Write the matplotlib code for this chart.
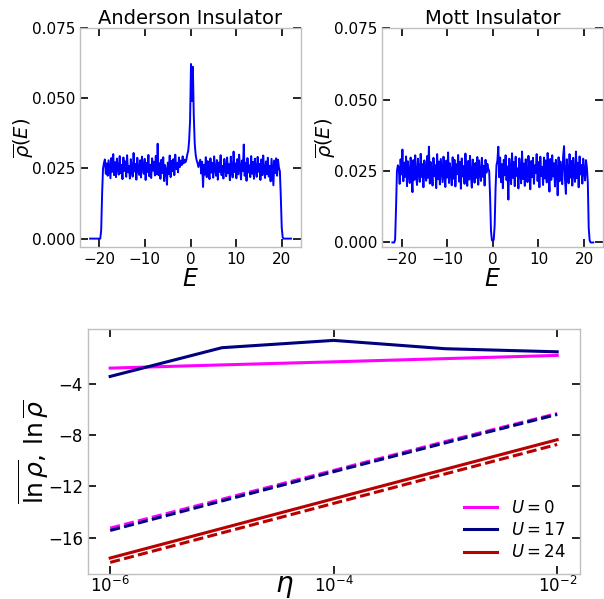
import numpy as np
import matplotlib
matplotlib.use("Agg")
import matplotlib.pyplot as plt

# --- density of states, Anderson insulator (values x 1e-4, grid step 0.2 from -22 to 22) ---
anderson_lead = [0, 0, 0, 0, 0, 0, 0, 0, 0, 0, 0, 0, 30, 160, 250, 270]
anderson_band_left = [
    282, 231, 268, 224, 279, 246, 215, 287, 238, 301,
    226, 272, 219, 285, 251, 228, 294, 233, 262, 212,
    289, 241, 275, 220, 297, 236, 258, 214, 283, 247,
    221, 305, 239, 266, 210, 288, 243, 227, 279, 218,
    292, 250, 231, 284, 209, 270, 237, 298, 222, 263,
    216, 286, 242, 274, 225, 295, 229, 338, 226, 268,
    213, 281, 234, 290, 205, 262, 244, 192, 271, 230,
    296, 219, 277, 240, 283, 226, 299, 248, 270, 236,
    289, 255, 278, 262, 293, 268, 281]
anderson_peak = [272, 281, 300, 312, 350, 420, 622, 490, 612, 440, 340, 300, 280, 270, 255]
anderson_band_right = [
    268, 281, 232, 274, 184, 263, 228, 290, 219, 276,
    241, 212, 286, 235, 270, 217, 293, 246, 224, 280,
    210, 271, 238, 297, 226, 259, 214, 284, 249, 222,
    289, 233, 265, 208, 292, 244, 218, 310, 237, 268,
    215, 283, 229, 299, 252, 211, 278, 240, 335, 224,
    270, 206, 287, 236, 261, 219, 294, 231, 273, 213,
    285, 247, 220, 291, 238, 266, 209, 282, 226, 296,
    243, 216, 275, 230, 288, 221, 259, 204, 284, 239,
    190, 278, 233, 286, 224, 281, 252]
anderson_tail = [240, 150, 40, 5, 0, 0, 0, 0, 0, 0, 0, 0, 0]

# --- density of states, Mott insulator ---
mott_lead = [0, 0, 0, 10, 120, 250, 270]
mott_band_left = [
    262, 205, 291, 238, 325, 214, 279, 230, 301, 197,
    284, 243, 208, 297, 226, 176, 288, 219, 305, 235,
    201, 293, 248, 212, 310, 229, 274, 193, 287, 240,
    216, 302, 226, 335, 206, 281, 245, 199, 296, 232,
    270, 190, 309, 221, 283, 203, 292, 251, 211, 300,
    236, 194, 286, 227, 315, 208, 277, 244, 200, 298,
    223, 289, 196, 273, 239, 306, 213, 282, 188, 294,
    231, 267, 205, 311, 242, 198, 285, 220, 303, 234,
    192, 290, 253, 209, 278, 226, 299, 202, 287, 241,
    215, 296, 230, 268, 199, 289, 244, 275, 258]
mott_gap = [250, 160, 40, 8, 5, 10, 60, 190, 270]
mott_band_right = [
    286, 335, 228, 297, 211, 274, 190, 289, 235, 305,
    218, 266, 150, 293, 241, 204, 312, 226, 281, 197,
    300, 233, 259, 189, 294, 245, 207, 318, 222, 276,
    198, 291, 237, 211, 303, 250, 186, 285, 229, 296,
    205, 270, 243, 309, 215, 281, 193, 300, 232, 264,
    201, 297, 224, 287, 210, 313, 240, 178, 292, 219,
    305, 231, 277, 196, 289, 248, 165, 298, 214, 283,
    236, 204, 302, 337, 220, 170, 291, 244, 207, 309,
    227, 285, 199, 296, 239, 212, 318, 225, 279, 193,
    301, 238, 271, 206, 293, 247, 217, 288, 262]
mott_tail = [210, 50, 8, 0, 0, 0, 0]

# --- typical vs mean log-density against broadening eta ---
eta = [1e-6, 1e-5, 1e-4, 1e-3, 1e-2]
U_values = [0, 17, 24]
colors = ["#ff00ff", "#000080", "#b80000"]
ln_typ = {
    0: [-2.78, -2.53, -2.29, -2.04, -1.79],
    17: [-3.43, -1.19, -0.62, -1.27, -1.51],
    24: [-17.58, -15.27, -12.96, -10.66, -8.36],
}
ln_mean = {
    0: [-15.25, -13.00, -10.75, -8.50, -6.32],
    17: [-15.43, -13.13, -10.85, -8.60, -6.39],
    24: [-17.92, -15.62, -13.32, -11.02, -8.73],
}

rho_A = np.array(anderson_lead + anderson_band_left + anderson_peak
                 + anderson_band_right + anderson_tail) * 1e-4
rho_M = np.array(mott_lead + mott_band_left + mott_gap
                 + mott_band_right + mott_tail) * 1e-4
E_A = np.linspace(-22, 22, len(rho_A))
E_M = np.linspace(-22, 22, len(rho_M))

spine_col = "#bfbfbf"


def style_axes(ax, labelsize):
    for s in ax.spines.values():
        s.set_color(spine_col)
        s.set_linewidth(1.0)
    ax.tick_params(which="both", direction="in", top=True, right=True,
                   length=6, width=1.2, color="black", labelsize=labelsize)


fig = plt.figure(figsize=(6.04, 5.99), dpi=100)

ax1 = fig.add_axes([0.1325, 0.5871, 0.3659, 0.3661])
ax2 = fig.add_axes([0.633, 0.5871, 0.3659, 0.3661])

for ax, E, rho, title, ymin in [(ax1, E_A, rho_A, "Anderson Insulator", -0.0031),
                                (ax2, E_M, rho_M, "Mott Insulator", -0.0017)]:
    ax.plot(E, rho, color="#0000ff", lw=1.4)
    ax.set_xlim(-24.2, 24.2)
    ax.set_ylim(ymin, 0.075)
    ax.set_xticks([-20, -10, 0, 10, 20])
    ax.set_yticks([0.0, 0.025, 0.05, 0.075])
    ax.set_yticklabels(["0.000", "0.025", "0.050", "0.075"])
    style_axes(ax, 11)
    ax.set_title(title, fontsize=14, pad=2)
    ax.set_xlabel(r"$E$", fontsize=17, labelpad=0)
    ax.set_ylabel(r"$\overline{\rho}(E)$", fontsize=14, labelpad=-3)

ax3 = fig.add_axes([0.1454, 0.04257, 0.8141, 0.4077])
for U, c in zip(U_values, colors):
    ax3.plot(eta, ln_typ[U], color=c, lw=2.2, label=rf"$U = {U}$")
    ax3.plot(eta, ln_mean[U], color=c, lw=2.2, ls="--", dashes=(3.3, 1.4))
ax3.set_xscale("log")
ax3.set_xticks([1e-6, 1e-4, 1e-2])
ax3.minorticks_off()
ax3.set_yticks([-4, -8, -12, -16])
style_axes(ax3, 12)
ax3.tick_params(axis="x", pad=2)
ax3.set_ylabel(r"$\overline{\ln\rho},\,\ln\overline{\rho}$", fontsize=18, labelpad=-2)
ax3.set_xlabel(r"$\eta$", fontsize=20)
ax3.xaxis.set_label_coords(0.40, 0.008)
ax3.legend(loc="lower right", frameon=False, fontsize=12, labelspacing=0.25,
           bbox_to_anchor=(1.002, -0.012))

fig.savefig("out.png", dpi=100)
